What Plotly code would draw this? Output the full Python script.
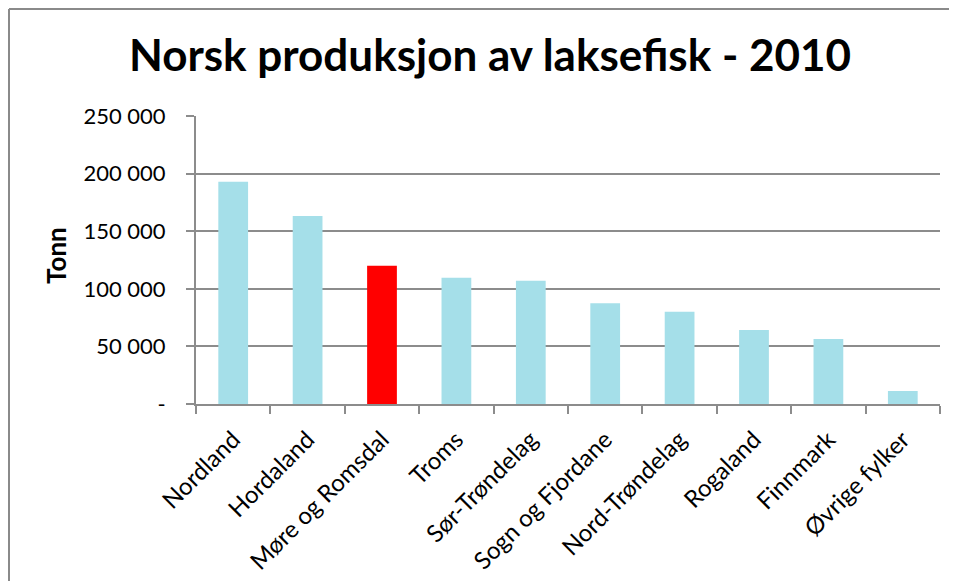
import plotly.graph_objects as go

categories = ["Nordland", "Hordaland", "Møre og Romsdal", "Troms", "Sør-Trøndelag",
              "Sogn og Fjordane", "Nord-Trøndelag", "Rogaland", "Finnmark", "Øvrige fylker"]
values = [193000, 163200, 120000, 109500, 107000, 87500, 80000, 64200, 56500, 11300]
highlight = "Møre og Romsdal"
tick_vals = [0, 50000, 100000, 150000, 200000, 250000]
tick_text = ["-", "50 000", "100 000", "150 000", "200 000", "250 000"]

BLUE = "#A5DFE9"
RED = "#FF0000"
GRID = "#8C8C8C"
FONT = "Lato"

colors = [RED if c == highlight else BLUE for c in categories]

fig = go.Figure(go.Bar(x=categories, y=values, marker=dict(color=colors, line=dict(width=0)),
                       width=0.4))

W, H = 957, 581
L, R, T, B = 188, 25, 108, 185
pw, ph = W - L - R, H - T - B

def px_x(p):
    return (p - L) / pw

def px_y(p):
    return (H - B - p) / ph

fig.update_layout(
    width=W, height=H,
    margin=dict(l=L, r=R, t=T, b=B, autoexpand=False),
    paper_bgcolor="white", plot_bgcolor="white",
    showlegend=False,
    title=dict(text="<b>Norsk produksjon av laksefisk - 2010</b>",
               font=dict(family=FONT, size=44, color="black"),
               x=482 / W, xanchor="center",
               y=1 - 48 / H, yanchor="middle"),
    font=dict(family=FONT, color="black"),
    xaxis=dict(
        type="category",
        showline=True, linecolor=GRID, linewidth=2,
        ticks="outside", ticklen=8, tickwidth=2, tickcolor=GRID,
        tickson="boundaries",
        tickangle=-45,
        ticklabelstandoff=10,
        tickfont=dict(family=FONT, size=24, color="black"),
        showgrid=False,
    ),
    yaxis=dict(
        range=[0, 250000],
        tickvals=tick_vals, ticktext=tick_text,
        showline=True, linecolor=GRID, linewidth=2,
        ticks="outside", ticklen=8, tickwidth=2, tickcolor=GRID,
        ticklabelstandoff=16,
        tickfont=dict(family=FONT, size=22, color="black"),
        showgrid=True, gridcolor=GRID, gridwidth=2,
        zeroline=False,
    ),
    annotations=[
        dict(text="<b>Tonn</b>", textangle=-90, showarrow=False,
             xref="paper", yref="paper", x=px_x(48), y=px_y(248),
             xanchor="center", yanchor="middle",
             font=dict(family=FONT, size=26, color="black")),
    ],
    shapes=[
        dict(type="line", xref="paper", yref="paper",
             x0=px_x(1), x1=px_x(W + 20), y0=px_y(1), y1=px_y(1),
             line=dict(color="#8A8A8A", width=2)),
        dict(type="line", xref="paper", yref="paper",
             x0=px_x(1), x1=px_x(1), y0=px_y(1), y1=px_y(H + 20),
             line=dict(color="#8A8A8A", width=2)),
    ],
)

fig.write_html("out.html")
